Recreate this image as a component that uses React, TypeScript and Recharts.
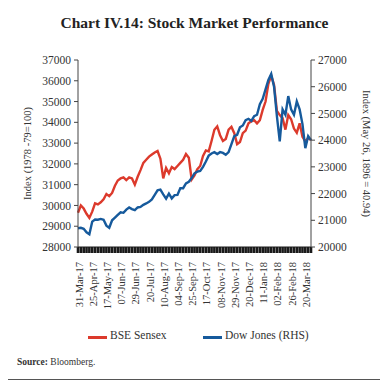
import React from "react";
import { LineChart, Line, XAxis, YAxis, Label } from "recharts";

const dates = [
  "31-Mar-17", "05-Apr-17", "10-Apr-17", "13-Apr-17", "20-Apr-17",
  "25-Apr-17", "28-Apr-17", "04-May-17", "09-May-17", "12-May-17",
  "17-May-17", "22-May-17", "25-May-17", "30-May-17", "02-Jun-17",
  "07-Jun-17", "12-Jun-17", "15-Jun-17", "20-Jun-17", "23-Jun-17",
  "29-Jun-17", "04-Jul-17", "07-Jul-17", "12-Jul-17", "17-Jul-17",
  "20-Jul-17", "25-Jul-17", "28-Jul-17", "02-Aug-17", "07-Aug-17",
  "10-Aug-17", "16-Aug-17", "21-Aug-17", "24-Aug-17", "30-Aug-17",
  "04-Sep-17", "07-Sep-17", "12-Sep-17", "15-Sep-17", "20-Sep-17",
  "25-Sep-17", "28-Sep-17", "04-Oct-17", "09-Oct-17", "12-Oct-17",
  "17-Oct-17", "23-Oct-17", "26-Oct-17", "31-Oct-17", "03-Nov-17",
  "08-Nov-17", "13-Nov-17", "16-Nov-17", "21-Nov-17", "24-Nov-17",
  "29-Nov-17", "04-Dec-17", "07-Dec-17", "12-Dec-17", "15-Dec-17",
  "20-Dec-17", "26-Dec-17", "29-Dec-17", "03-Jan-18", "08-Jan-18",
  "11-Jan-18", "16-Jan-18", "19-Jan-18", "24-Jan-18", "29-Jan-18",
  "02-Feb-18", "07-Feb-18", "12-Feb-18", "15-Feb-18", "21-Feb-18",
  "26-Feb-18", "01-Mar-18", "06-Mar-18", "09-Mar-18", "14-Mar-18",
  "20-Mar-18", "23-Mar-18", "28-Mar-18",
];

const sensex = [
  29650, 30000, 29850, 29600, 29400, 29700, 30100, 30050, 30150, 30300,
  30550, 30450, 30600, 30950, 31200, 31300, 31350, 31220, 31350, 31300,
  31000, 31380, 31700, 32050, 32200, 32350, 32450, 32550, 32620, 32250,
  31300, 31800, 31550, 31850, 31750, 31900, 32050, 32200, 32480, 32300,
  31250, 31450, 31750, 31900, 32380, 32650, 32600, 33100, 33640, 33800,
  33380, 33100, 33200, 33650, 33780, 33480, 32950, 33050, 33480, 33600,
  33950, 34050, 34100, 33950, 34100, 34600, 35000, 35850, 36250, 35800,
  34550, 34350, 34200, 33650, 34350, 34150, 33700, 33500, 33950, 33300,
  33080, 33250, 33150,
];

const dowJones = [
  20700, 20720, 20680, 20550, 20480, 20950, 21030, 21020, 21050, 21020,
  20800, 20720, 21000, 21100, 21200, 21300, 21280, 21400, 21480, 21420,
  21380, 21480, 21500, 21580, 21630, 21690, 21780, 21950, 22120, 22150,
  21970, 21810, 22000, 21820, 21940, 21950, 22200, 22200, 22380, 22440,
  22580, 22760, 22820, 22850, 23000, 23200, 23420, 23500, 23550, 23480,
  23550, 23520, 23450, 23550, 23850, 24150, 24200, 24480, 24550, 24750,
  24800, 24720, 24900, 24950, 25350, 25550, 25900, 26250, 26480, 26000,
  24900, 23950, 25150, 24950, 25650, 25150, 24950, 25450, 25150, 24600,
  23700, 24150, 24000,
];

const leftTicks = [28000, 29000, 30000, 31000, 32000, 33000, 34000, 35000, 36000, 37000];
const rightTicks = [20000, 21000, 22000, 23000, 24000, 25000, 26000, 27000];

const rows = dates.map((d, i) => ({ date: d, sensex: sensex[i], dow: dowJones[i] }));

const FONT = '"Liberation Serif", "DejaVu Serif", serif';
const RED = "#dc3a2c";
const BLUE = "#165a9c";

// only every 5th category gets a label, the rest just keep their tick line
const DateTick = (props: any) => {
  const { x, y, index, payload } = props;
  if (index % 5 !== 0) return <g />;
  return (
    <text
      x={x + 1}
      y={y}
      transform={`rotate(-90, ${x + 1}, ${y})`}
      textAnchor="end"
      dominantBaseline="central"
      fontSize={10.5}
      fontFamily={FONT}
      fill="#333"
    >
      {payload.value}
    </text>
  );
};

const tickStyle = { fontSize: 11.5, fontFamily: FONT, fill: "#333" };

export default function App() {
  return (
    <div style={{ position: "relative", width: 379, height: 377, marginLeft: -3, marginTop: -5 }}>
      <div
        style={{
          position: "absolute",
          left: 0,
          top: 0,
          width: 379,
          height: 377,
          boxSizing: "border-box",
          border: "1px solid #555",
        }}
      />
      <div
        style={{
          position: "absolute",
          left: 0,
          top: 11,
          width: 379,
          textAlign: "center",
          fontFamily: FONT,
          fontWeight: "bold",
          fontSize: 15.5,
          color: "#222",
        }}
      >
        Chart IV.14: Stock Market Performance
      </div>
      <div style={{ position: "absolute", left: 0, top: 0 }}>
        <LineChart
          width={378}
          height={376}
          data={rows}
          margin={{ top: 57, right: 12, bottom: 72, left: 18 }}
        >
          <XAxis
            dataKey="date"
            interval={0}
            height={60}
            tick={DateTick}
            tickSize={6}
            tickMargin={9}
            tickLine={{ stroke: "#1a1a1a", strokeWidth: 2.6 }}
            axisLine={{ stroke: "#1a1a1a" }}
          />
          <YAxis
            yAxisId="left"
            domain={[28000, 37000]}
            ticks={leftTicks}
            width={55}
            tickSize={4}
            tickMargin={3}
            tick={tickStyle}
            axisLine={{ stroke: "#444" }}
            tickLine={{ stroke: "#444" }}
          >
            <Label
              value="Index (1978 -79=100)"
              angle={-90}
              position="insideLeft"
              offset={4.5}
              style={{ textAnchor: "middle", fontSize: 10.5, fontFamily: FONT, fill: "#333" }}
            />
          </YAxis>
          <YAxis
            yAxisId="right"
            orientation="right"
            domain={[20000, 27000]}
            ticks={rightTicks}
            width={60}
            tickSize={4}
            tickMargin={3}
            tick={tickStyle}
            axisLine={{ stroke: "#444" }}
            tickLine={{ stroke: "#444" }}
          >
            <Label
              value="Index (May 26, 1896 = 40.94)"
              angle={90}
              position="insideRight"
              offset={4}
              style={{ textAnchor: "middle", fontSize: 10.5, fontFamily: FONT, fill: "#333" }}
            />
          </YAxis>
          <Line
            yAxisId="left"
            dataKey="sensex"
            stroke={RED}
            strokeWidth={2.4}
            dot={false}
            isAnimationActive={false}
          />
          <Line
            yAxisId="right"
            dataKey="dow"
            stroke={BLUE}
            strokeWidth={2.4}
            dot={false}
            isAnimationActive={false}
          />
        </LineChart>
      </div>
      {/* legend */}
      <div
        style={{
          position: "absolute",
          top: 326,
          left: 0,
          width: 379,
          fontFamily: FONT,
          fontSize: 11.5,
          color: "#333",
        }}
      >
        <span style={{ position: "absolute", left: 83, top: 7, width: 19, height: 2.5, background: RED }} />
        <span style={{ position: "absolute", left: 105, top: 0 }}>BSE Sensex</span>
        <span style={{ position: "absolute", left: 198, top: 7, width: 19, height: 2.5, background: BLUE }} />
        <span style={{ position: "absolute", left: 220, top: 0 }}>Dow Jones (RHS)</span>
      </div>
      <div
        style={{
          position: "absolute",
          top: 354,
          left: 12,
          fontFamily: FONT,
          fontSize: 9.5,
          color: "#333",
        }}
      >
        <b>Source:</b> Bloomberg.
      </div>
    </div>
  );
}
